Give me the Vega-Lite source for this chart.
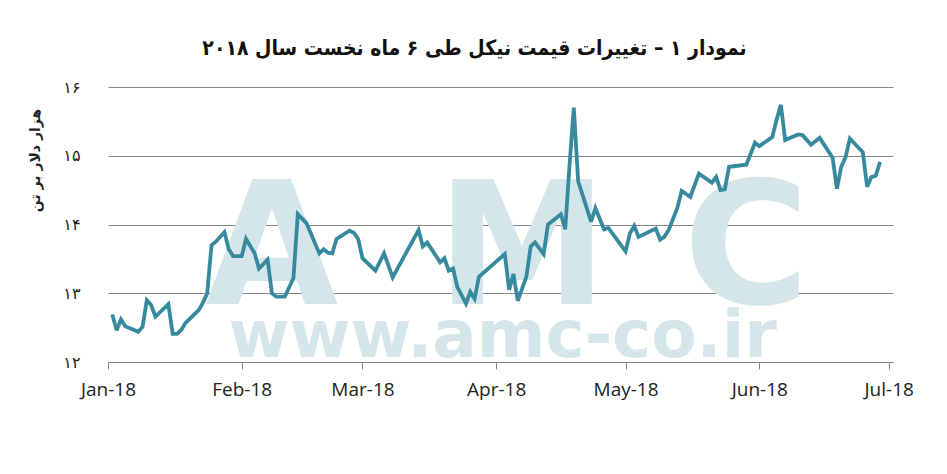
{
  "$schema": "https://vega.github.io/schema/vega-lite/v6.json",
  "width": 785,
  "height": 275,
  "autosize": "none",
  "padding": {"left": 108, "top": 87, "right": 54, "bottom": 112},
  "background": "white",
  "config": {"view": {"stroke": null}},
  "title": {
    "text": "نمودار ۱ – تغییرات قیمت نیکل طی ۶ ماه نخست سال ۲۰۱۸",
    "font": "DejaVu Sans Condensed, DejaVu Sans",
    "fontSize": 21,
    "fontWeight": "bold",
    "color": "#111",
    "anchor": "middle",
    "frame": "group",
    "baseline": "alphabetic",
    "offset": 3,
    "dx": -26
  },
  "data": {
    "values": [
      {"date": "2018-01-02", "price": 12.69},
      {"date": "2018-01-03", "price": 12.46},
      {"date": "2018-01-04", "price": 12.62},
      {"date": "2018-01-05", "price": 12.52},
      {"date": "2018-01-08", "price": 12.44},
      {"date": "2018-01-09", "price": 12.51},
      {"date": "2018-01-10", "price": 12.90},
      {"date": "2018-01-11", "price": 12.83},
      {"date": "2018-01-12", "price": 12.66},
      {"date": "2018-01-15", "price": 12.84},
      {"date": "2018-01-16", "price": 12.41},
      {"date": "2018-01-17", "price": 12.41},
      {"date": "2018-01-18", "price": 12.47},
      {"date": "2018-01-19", "price": 12.57},
      {"date": "2018-01-22", "price": 12.75},
      {"date": "2018-01-23", "price": 12.86},
      {"date": "2018-01-24", "price": 13.00},
      {"date": "2018-01-25", "price": 13.70},
      {"date": "2018-01-26", "price": 13.75},
      {"date": "2018-01-28", "price": 13.89},
      {"date": "2018-01-29", "price": 13.64},
      {"date": "2018-01-30", "price": 13.54},
      {"date": "2018-02-01", "price": 13.54},
      {"date": "2018-02-02", "price": 13.79},
      {"date": "2018-02-04", "price": 13.58},
      {"date": "2018-02-05", "price": 13.36},
      {"date": "2018-02-07", "price": 13.49},
      {"date": "2018-02-08", "price": 13.00},
      {"date": "2018-02-09", "price": 12.95},
      {"date": "2018-02-11", "price": 12.95},
      {"date": "2018-02-13", "price": 13.22},
      {"date": "2018-02-14", "price": 14.15},
      {"date": "2018-02-16", "price": 14.02},
      {"date": "2018-02-19", "price": 13.58},
      {"date": "2018-02-20", "price": 13.64},
      {"date": "2018-02-21", "price": 13.59},
      {"date": "2018-02-22", "price": 13.58},
      {"date": "2018-02-23", "price": 13.79},
      {"date": "2018-02-26", "price": 13.91},
      {"date": "2018-02-27", "price": 13.88},
      {"date": "2018-02-28", "price": 13.79},
      {"date": "2018-03-01", "price": 13.51},
      {"date": "2018-03-04", "price": 13.33},
      {"date": "2018-03-06", "price": 13.58},
      {"date": "2018-03-08", "price": 13.23},
      {"date": "2018-03-14", "price": 13.92},
      {"date": "2018-03-15", "price": 13.68},
      {"date": "2018-03-16", "price": 13.74},
      {"date": "2018-03-19", "price": 13.45},
      {"date": "2018-03-20", "price": 13.51},
      {"date": "2018-03-21", "price": 13.33},
      {"date": "2018-03-22", "price": 13.36},
      {"date": "2018-03-23", "price": 13.09},
      {"date": "2018-03-25", "price": 12.85},
      {"date": "2018-03-26", "price": 13.02},
      {"date": "2018-03-27", "price": 12.92},
      {"date": "2018-03-28", "price": 13.24},
      {"date": "2018-04-03", "price": 13.57},
      {"date": "2018-04-04", "price": 13.05},
      {"date": "2018-04-05", "price": 13.28},
      {"date": "2018-04-06", "price": 12.89},
      {"date": "2018-04-08", "price": 13.24},
      {"date": "2018-04-09", "price": 13.68},
      {"date": "2018-04-10", "price": 13.74},
      {"date": "2018-04-12", "price": 13.57},
      {"date": "2018-04-13", "price": 14.00},
      {"date": "2018-04-16", "price": 14.15},
      {"date": "2018-04-17", "price": 13.93},
      {"date": "2018-04-18", "price": 14.86},
      {"date": "2018-04-19", "price": 15.70},
      {"date": "2018-04-20", "price": 14.63},
      {"date": "2018-04-23", "price": 14.04},
      {"date": "2018-04-24", "price": 14.24},
      {"date": "2018-04-26", "price": 13.93},
      {"date": "2018-04-27", "price": 13.95},
      {"date": "2018-05-01", "price": 13.61},
      {"date": "2018-05-02", "price": 13.87},
      {"date": "2018-05-03", "price": 13.98},
      {"date": "2018-05-04", "price": 13.82},
      {"date": "2018-05-08", "price": 13.94},
      {"date": "2018-05-09", "price": 13.78},
      {"date": "2018-05-10", "price": 13.82},
      {"date": "2018-05-11", "price": 13.92},
      {"date": "2018-05-13", "price": 14.24},
      {"date": "2018-05-14", "price": 14.49},
      {"date": "2018-05-16", "price": 14.40},
      {"date": "2018-05-18", "price": 14.74},
      {"date": "2018-05-21", "price": 14.61},
      {"date": "2018-05-22", "price": 14.69},
      {"date": "2018-05-23", "price": 14.50},
      {"date": "2018-05-24", "price": 14.51},
      {"date": "2018-05-25", "price": 14.84},
      {"date": "2018-05-29", "price": 14.87},
      {"date": "2018-05-31", "price": 15.19},
      {"date": "2018-06-01", "price": 15.14},
      {"date": "2018-06-04", "price": 15.27},
      {"date": "2018-06-05", "price": 15.52},
      {"date": "2018-06-06", "price": 15.74},
      {"date": "2018-06-07", "price": 15.23},
      {"date": "2018-06-10", "price": 15.31},
      {"date": "2018-06-11", "price": 15.30},
      {"date": "2018-06-13", "price": 15.16},
      {"date": "2018-06-15", "price": 15.26},
      {"date": "2018-06-18", "price": 14.97},
      {"date": "2018-06-19", "price": 14.52},
      {"date": "2018-06-20", "price": 14.84},
      {"date": "2018-06-21", "price": 14.98},
      {"date": "2018-06-22", "price": 15.25},
      {"date": "2018-06-25", "price": 15.05},
      {"date": "2018-06-26", "price": 14.55},
      {"date": "2018-06-27", "price": 14.69},
      {"date": "2018-06-28", "price": 14.71},
      {"date": "2018-06-29", "price": 14.91}
    ]
  },
  "encoding": {
    "x": {
      "field": "date",
      "type": "temporal",
      "title": null,
      "scale": {
        "type": "utc",
        "nice": false,
        "domain": [
          {"year": 2018, "month": 1, "date": 1, "utc": true},
          {"year": 2018, "month": 7, "date": 2, "utc": true}
        ]
      },
      "axis": {
        "values": [
          {"year": 2018, "month": 1, "date": 1, "utc": true},
          {"year": 2018, "month": 2, "date": 1, "utc": true},
          {"year": 2018, "month": 3, "date": 1, "utc": true},
          {"year": 2018, "month": 4, "date": 1, "utc": true},
          {"year": 2018, "month": 5, "date": 1, "utc": true},
          {"year": 2018, "month": 6, "date": 1, "utc": true},
          {"year": 2018, "month": 7, "date": 1, "utc": true}
        ],
        "format": "%b-%y",
        "grid": false,
        "domainColor": "#878787",
        "tickColor": "#878787",
        "tickSize": 7,
        "labelFont": "Open Sans",
        "labelFontSize": 19,
        "labelColor": "#222",
        "labelPadding": 11,
        "labelFlush": false
      }
    },
    "y": {
      "field": "price",
      "type": "quantitative",
      "scale": {"domain": [12, 16], "nice": false, "zero": false},
      "axis": {
        "values": [12, 13, 14, 15, 16],
        "labelExpr": "['۱۲','۱۳','۱۴','۱۵','۱۶'][datum.value - 12]",
        "domain": false,
        "ticks": false,
        "gridColor": "#878787",
        "gridWidth": 1,
        "labelFont": "DejaVu Sans",
        "labelFontSize": 16,
        "labelColor": "#222",
        "labelPadding": 28,
        "title": "هزار دلار بر تن",
        "titleFont": "DejaVu Sans",
        "titleFontSize": 14,
        "titleFontWeight": "bold",
        "titleColor": "#222",
        "titleX": -73,
        "titleY": 73,
        "titleAlign": "center",
        "titleBaseline": "middle"
      }
    }
  },
  "layer": [
    {
      "transform": [{"filter": "datum.price > 15.72"}],
      "mark": {"type": "text", "text": "A", "font": "DejaVu Sans", "fontWeight": "bold", "fontSize": 172, "color": "#d5e6eb", "align": "center", "baseline": "alphabetic"},
      "encoding": {
        "x": {"datum": {"year": 2018, "month": 2, "date": 8, "utc": true}, "type": "temporal"},
        "y": {"datum": 12.85, "type": "quantitative"}
      }
    },
    {
      "transform": [{"filter": "datum.price > 15.72"}],
      "mark": {"type": "text", "text": "M", "font": "DejaVu Sans", "fontWeight": "bold", "fontSize": 172, "color": "#d5e6eb", "align": "center", "baseline": "alphabetic"},
      "encoding": {
        "x": {"datum": {"year": 2018, "month": 4, "date": 7, "utc": true}, "type": "temporal"},
        "y": {"datum": 12.85, "type": "quantitative"}
      }
    },
    {
      "transform": [{"filter": "datum.price > 15.72"}],
      "mark": {"type": "text", "text": "C", "font": "DejaVu Sans", "fontWeight": "bold", "fontSize": 172, "color": "#d5e6eb", "align": "center", "baseline": "alphabetic"},
      "encoding": {
        "x": {"datum": {"year": 2018, "month": 5, "date": 29, "utc": true}, "type": "temporal"},
        "y": {"datum": 12.85, "type": "quantitative"}
      }
    },
    {
      "transform": [{"filter": "datum.price > 15.72"}],
      "mark": {"type": "text", "text": "www.amc-co.ir", "font": "DejaVu Sans", "fontWeight": "bold", "fontSize": 66, "color": "#d5e6eb", "align": "center", "baseline": "alphabetic"},
      "encoding": {
        "x": {"datum": {"year": 2018, "month": 4, "date": 2, "hours": 12, "utc": true}, "type": "temporal"},
        "y": {"datum": 12.08, "type": "quantitative"}
      }
    },
    {
      "mark": {"type": "line", "color": "#378a9e", "strokeWidth": 3.8, "strokeJoin": "miter", "strokeMiterLimit": 3}
    }
  ]
}
